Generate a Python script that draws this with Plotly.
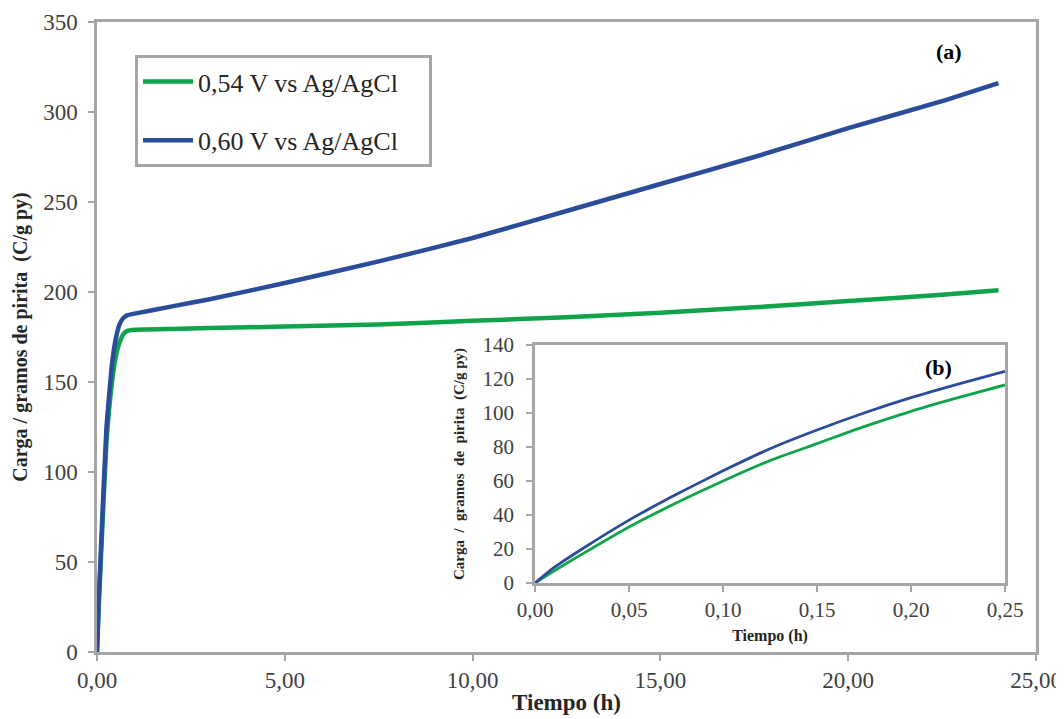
import plotly.graph_objects as go

# ---- data ----
t_main = [0, 0.05, 0.1, 0.25, 0.4, 0.5, 0.6, 0.7, 0.8, 1.0, 2, 3, 5, 7.5, 10, 12.5, 15, 17.5, 20, 22.5, 24]
q_054 = [0, 28, 50, 116, 150, 164, 172, 176.5, 178.3, 179, 179.5, 180, 180.8, 182, 184, 186, 188.5, 191.5, 195, 198.5, 201]
q_060 = [0, 30, 55, 124, 160, 174, 182, 185.5, 187, 188, 192, 196, 205, 217, 230, 245, 260, 275, 291, 306, 316]

t_inset = [0, 0.01, 0.025, 0.05, 0.075, 0.1, 0.125, 0.15, 0.175, 0.2, 0.225, 0.25]
q_054_inset = [0, 7, 17, 33, 47, 60, 72, 82, 92, 101, 109, 116.5]
q_060_inset = [0, 9, 20, 37, 52, 66, 79, 90, 100, 109, 117, 124.5]

names = ["0,54 V vs Ag/AgCl", "0,60 V vs Ag/AgCl"]
colors = ["#0FA34A", "#2B4C9B"]

FONT = "Liberation Serif"
GRID = "#A6A6A6"
TXT = "#404040"
PAD = "\u00a0" * 4  # widens the legend box

fig = go.Figure()

for i, (y, yi) in enumerate([(q_054, q_054_inset), (q_060, q_060_inset)]):
    fig.add_trace(go.Scatter(x=t_main, y=y, mode="lines", name=names[i] + PAD,
                             line=dict(color=colors[i], width=4.5, shape="spline", smoothing=0.4),
                             legendgroup=f"g{i}", xaxis="x", yaxis="y"))
    fig.add_trace(go.Scatter(x=t_inset, y=yi, mode="lines", name=names[i], showlegend=False,
                             line=dict(color=colors[i], width=2.8, shape="spline", smoothing=0.6),
                             xaxis="x2", yaxis="y2"))

axis_common = dict(showline=True, mirror=True, linecolor=GRID, linewidth=2.5, showgrid=False,
                   zeroline=False, ticks="outside", tickcolor=GRID, tickwidth=1.5, ticklen=6,
                   automargin=False)

fig.update_layout(
    width=1056, height=711,
    margin=dict(l=89, r=28, t=14, b=67, autoexpand=False),
    paper_bgcolor="white", plot_bgcolor="white",
    separators=",.",
    font=dict(family=FONT, color=TXT),
    xaxis=dict(domain=[0, 1], range=[0, 25], dtick=5, tickformat=".2f",
               tickfont=dict(size=23, family=FONT, color=TXT),
               title=dict(text="<b>Tiempo (h)</b>", font=dict(size=23, family=FONT, color="#262626"), standoff=2),
               **axis_common),
    yaxis=dict(domain=[0, 1], range=[0, 350], dtick=50, ticklabelstandoff=6,
               tickfont=dict(size=23, family=FONT, color=TXT),
               title=dict(text="<b>Carga / gramos de pirita  (C/g py)</b>", font=dict(size=20, family=FONT, color="#262626"), standoff=11),
               **axis_common),
    xaxis2=dict(domain=[0.4665, 0.967], range=[0, 0.25], dtick=0.05, tickformat=".2f", anchor="y2",
                tickfont=dict(size=21, family=FONT, color=TXT),
                title=dict(text="<b>Tiempo (h)</b>", font=dict(size=16, family=FONT, color="#262626"), standoff=9),
                **axis_common),
    yaxis2=dict(domain=[0.1095, 0.4873], range=[0, 140], dtick=20, anchor="x2", ticklabelstandoff=8,
                tickfont=dict(size=21, family=FONT, color=TXT),
                title=dict(text="<b>Carga  /  gramos  de  pirita  (C/g py)</b>", font=dict(size=15, family=FONT, color="#262626"), standoff=15),
                **axis_common),
    legend=dict(x=0.0405, y=0.9476, xanchor="left", yanchor="top",
                bgcolor="white", bordercolor=GRID, borderwidth=3,
                font=dict(size=26, family=FONT, color="#262626"),
                tracegroupgap=22, traceorder="grouped", itemwidth=50),
    annotations=[
        dict(text="<b>(a)</b>", x=0.923, y=0.976, xref="paper", yref="paper", showarrow=False,
             font=dict(size=22, family=FONT, color="black")),
        dict(text="<b>(b)</b>", x=0.9125, y=0.452, xref="paper", yref="paper", showarrow=False,
             font=dict(size=22, family=FONT, color="black")),
    ],
)

fig.write_html("out.html")
